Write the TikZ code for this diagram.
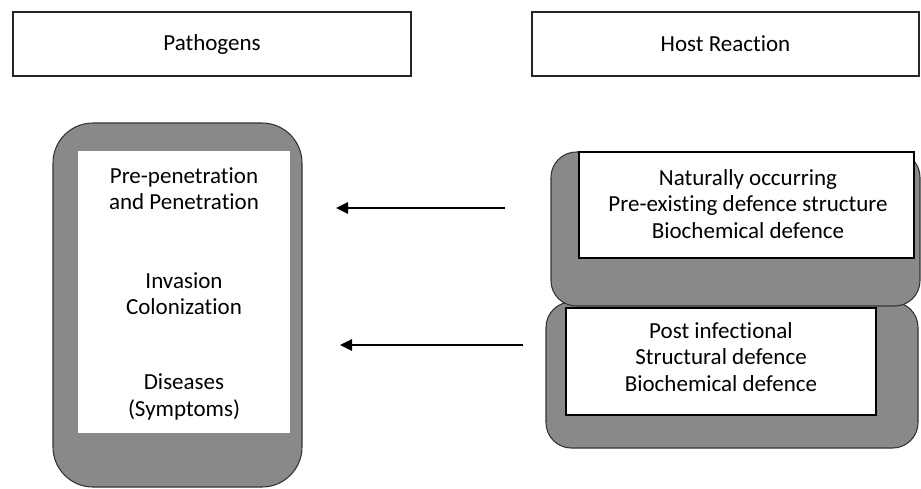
\documentclass[tikz,border=0pt]{standalone}
\usepackage{fontspec}
\setmainfont{Carlito}[Ligatures={NoCommon}]
\usetikzlibrary{arrows.meta}
\definecolor{panelgray}{RGB}{137,137,137}
\begin{document}
\begin{tikzpicture}[x=0.75pt,y=-0.75pt,
  every node/.style={inner sep=0pt,outer sep=0pt},
  txt/.style={align=center,font=\fontsize{17.25}{19.6}\selectfont},
  headbox/.style={draw=black!85,line width=0.8pt,fill=white,txt},
  panel/.style={draw=black!80,line width=0.8pt,fill=panelgray},
  sheet/.style={fill=white},
  framedsheet/.style={draw=black,line width=0.8pt,fill=white},
  flow/.style={line width=1.5pt,-{Triangle[length=9pt,width=8.5pt]}}]
\useasboundingbox (0,0) rectangle (921,489);

% column headings
\node[headbox,minimum width=298.5pt,minimum height=48pt] (path) at (212,44) {Pathogens};
\node[headbox,minimum width=290.25pt,minimum height=48pt] (host) at (725.5,44) {Host Reaction};

% pathogen stages
\node[panel,rounded corners=30pt,minimum width=186.75pt,minimum height=273pt] (left) at (177.5,305) {};
\node[sheet,minimum width=159pt,minimum height=211.5pt] (leftsheet) at (184,292) {};
\node[txt] (pre) at (184,189) {Pre-penetration\\and Penetration};
\node[txt] (inv) at (184,294) {Invasion\\Colonization};
\node[txt] (dis) at (184,397) {Diseases\\(Symptoms)};

% host defences: post infectional panel sits behind the pre-existing one
\node[panel,rounded corners=19pt,minimum width=279pt,minimum height=109.5pt] (lower) at (732,375) {};
\node[panel,rounded corners=19pt,minimum width=276.75pt,minimum height=115.5pt] (upper) at (735.5,229) {};
\node[framedsheet,minimum width=251.25pt,minimum height=79.5pt] (uppersheet) at (746.5,205) {};
\node[txt] (natural) at (748,204) {Naturally occurring\\Pre-existing defence structure\\Biochemical defence};
\node[framedsheet,minimum width=232.5pt,minimum height=80.25pt] (lowersheet) at (721,361.5) {};
\node[txt] (post) at (721,357) {Post infectional\\Structural defence\\Biochemical defence};

% arrows from host reactions back to pathogen stages
\coordinate (a1s) at (505,208);
\coordinate (a1e) at (336,208);
\coordinate (a2s) at (523,345);
\coordinate (a2e) at (340,345);
\draw[flow] (a1s) -- (a1e);
\draw[flow] (a2s) -- (a2e);
\end{tikzpicture}
\end{document}
